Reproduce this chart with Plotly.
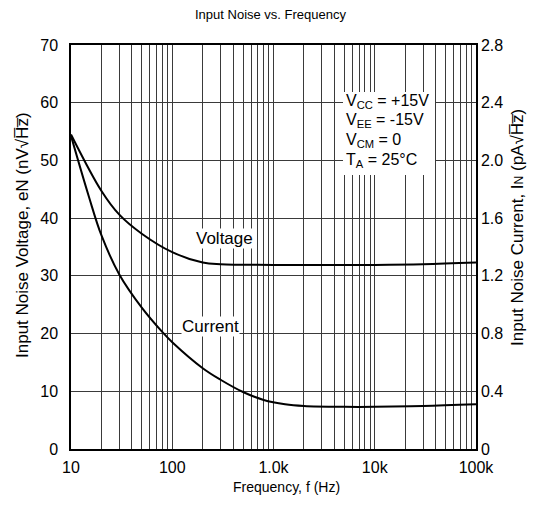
import plotly.graph_objects as go

# Data
volt_freq = [10, 20, 30, 50, 100, 200, 300, 1000, 10000, 30000, 100000]
volt_noise = [54.5, 44.7, 40.6, 37.3, 34.1, 32.3, 32.0, 31.9, 31.9, 32.0, 32.3]

curr_freq = [10, 15, 20, 30, 50, 80, 100, 200, 300, 500, 800, 1300, 2000, 5000, 10000, 30000, 100000]
curr_noise = [2.17, 1.75, 1.48, 1.21, 0.98, 0.81, 0.74, 0.56, 0.48, 0.395, 0.34, 0.31, 0.298, 0.292, 0.292, 0.298, 0.31]

x_major = [10, 100, 1000, 10000, 100000]
x_major_labels = ["10", "100", "1.0k", "10k", "100k"]
y_left_ticks = [0, 10, 20, 30, 40, 50, 60, 70]
y_right_ticks = [0, 0.4, 0.8, 1.2, 1.6, 2.0, 2.4, 2.8]
y_right_labels = ["0", "0.4", "0.8", "1.2", "1.6", "2.0", "2.4", "2.8"]

conditions = ["V<sub>CC</sub> = +15V", "V<sub>EE</sub> = -15V", "V<sub>CM</sub> = 0", "T<sub>A</sub> = 25°C"]

# grid positions (1..9 per decade), labels only on decades
x_grid = []
x_grid_text = []
for d in x_major[:-1]:
    for m in range(1, 10):
        x_grid.append(d * m)
        x_grid_text.append(x_major_labels[x_major.index(d)] if m == 1 else "")
x_grid.append(x_major[-1])
x_grid_text.append(x_major_labels[-1])

FONT = "Liberation Sans, Arial, sans-serif"
GRID = "#3a3a3a"
TICK_FS = 16

fig = go.Figure()
fig.add_trace(go.Scatter(x=volt_freq, y=volt_noise, mode="lines",
                         line=dict(color="black", width=2, shape="spline", smoothing=1.0),
                         yaxis="y", showlegend=False))
fig.add_trace(go.Scatter(x=curr_freq, y=curr_noise, mode="lines",
                         line=dict(color="black", width=2, shape="spline", smoothing=1.0),
                         yaxis="y2", showlegend=False))

OFF = 8
W, H = 520, 510
L, T = 63, 37
pw, ph = 405, 404
R = W - L - pw
B = H - T - ph

def px(x):  # screen pixel -> paper fraction
    return (x - OFF - L) / pw

def py(y):
    return (T + ph - (y - OFF)) / ph

fig.update_layout(
    width=W, height=H,
    margin=dict(l=L, r=R, t=T, b=B, pad=0),
    paper_bgcolor="white", plot_bgcolor="white",
    font=dict(family=FONT, size=14, color="black"),
    xaxis=dict(type="log", range=[1, 5], tickvals=x_grid, ticktext=x_grid_text,
               showgrid=True, gridcolor=GRID, gridwidth=1,
               showline=True, linecolor="black", linewidth=1.5, mirror=True,
               ticks="outside", ticklen=3, tickcolor="rgba(0,0,0,0)",
               zeroline=False, tickfont=dict(size=TICK_FS)),
    yaxis=dict(range=[0, 70], tickvals=y_left_ticks,
               showgrid=True, gridcolor=GRID, gridwidth=1,
               showline=True, linecolor="black", linewidth=1.5, mirror=True,
               ticks="outside", ticklen=8, tickcolor="rgba(0,0,0,0)",
               zeroline=False, tickfont=dict(size=TICK_FS)),
    yaxis2=dict(range=[0, 2.8], tickvals=y_right_ticks, ticktext=y_right_labels,
                overlaying="y", side="right", showgrid=False,
                showline=True, linecolor="black", linewidth=1.5,
                ticks="", zeroline=False, tickfont=dict(size=TICK_FS)),
)

# white box behind the conditions text
fig.add_shape(type="rect", xref="paper", yref="paper",
              x0=px(343), x1=px(435), y0=py(175), y1=py(92),
              fillcolor="white", line=dict(width=0), layer="above")

cond_y = [101, 121, 140, 160]
for txt, yy in zip(conditions, cond_y):
    fig.add_annotation(text=txt, xref="paper", yref="paper", x=px(344), y=py(yy),
                       xanchor="left", yanchor="middle", showarrow=False,
                       font=dict(size=16, family=FONT))

fig.add_annotation(text="Voltage", xref="paper", yref="paper", x=px(224), y=py(238),
                   xanchor="center", yanchor="middle", showarrow=False,
                   bgcolor="white", borderpad=0, font=dict(size=17, family=FONT))
fig.add_annotation(text="Current", xref="paper", yref="paper", x=px(210), y=py(326),
                   xanchor="center", yanchor="middle", showarrow=False,
                   bgcolor="white", borderpad=0, font=dict(size=17, family=FONT))

# titles
fig.add_annotation(text="Input Noise vs. Frequency", xref="paper", yref="paper",
                   x=px(271), y=py(15), xanchor="center", yanchor="middle",
                   showarrow=False, font=dict(size=13, family=FONT))
fig.add_annotation(text="Frequency, f (Hz)", xref="paper", yref="paper",
                   x=px(286), y=py(487), xanchor="center", yanchor="middle",
                   showarrow=False, font=dict(size=14, family=FONT))
fig.add_annotation(text="Input Noise Voltage, eN (nV\u221aH\u0305z\u0305)", xref="paper", yref="paper",
                   x=px(22), y=py(235), xanchor="center", yanchor="middle", textangle=-90,
                   showarrow=False, font=dict(size=17, family=FONT))
fig.add_annotation(text="Input Noise Current, I<span style='font-size:12px'>N</span> (pA\u221aH\u0305z\u0305)",
                   xref="paper", yref="paper",
                   x=px(518), y=py(227), xanchor="center", yanchor="middle", textangle=-90,
                   showarrow=False, font=dict(size=17, family=FONT))

fig.write_html("out.html")
